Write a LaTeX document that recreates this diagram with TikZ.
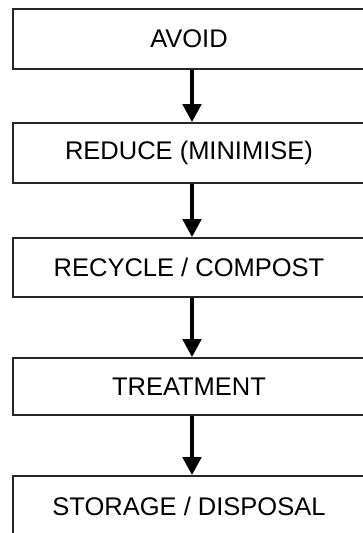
\documentclass[tikz,border=0pt]{standalone}
\usepackage{fontspec}
\setmainfont{Liberation Sans}
\usetikzlibrary{arrows.meta}

\tikzset{
  stage/.style={draw=black!85, line width=1.6pt, minimum width=352pt,
    inner sep=0pt, font=\fontsize{25.5}{30}\selectfont},
  flow/.style={line width=4.5pt, -{Triangle[width=18pt,length=18pt]}}
}

\begin{document}
\begin{tikzpicture}[x=1pt,y=1pt]
  \useasboundingbox (0,0) rectangle (363,-533);

  % hierarchy of waste management options, most to least preferred
  \node[stage, minimum height=60pt] (avoid)   at (189,-39)    {AVOID};
  \node[stage, minimum height=60pt] (reduce)  at (189,-153)   {REDUCE (MINIMISE)};
  \node[stage, minimum height=59pt] (recycle) at (189,-267.5) {RECYCLE / COMPOST};
  \node[stage, minimum height=57pt] (treat)   at (189,-386.5) {TREATMENT};
  \node[stage, minimum height=60pt] (store)   at (189,-506)   {STORAGE / DISPOSAL};

  % downward steps between the stages
  \draw[flow] ([xshift=3pt]avoid.south)   -- ([xshift=3pt]reduce.north);
  \draw[flow] ([xshift=3pt]reduce.south)  -- ([xshift=3pt]recycle.north);
  \draw[flow] ([xshift=3pt]recycle.south) -- ([xshift=3pt]treat.north);
  \draw[flow] ([xshift=3pt]treat.south)   -- ([xshift=3pt]store.north);
\end{tikzpicture}
\end{document}
